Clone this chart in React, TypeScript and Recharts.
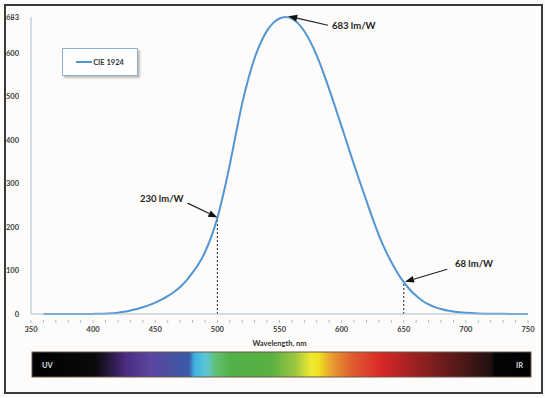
import * as React from "react";
import {
  Line,
  LineChart,
  ReferenceLine,
  XAxis,
  YAxis
} from "recharts";

// CIE 1924 photopic luminous efficacy, lm/W (683 * V(λ))
const wavelengths = [
  360, 370, 380, 390, 400, 410, 420, 425, 430, 435, 440, 445, 450, 455, 460,
  465, 470, 475, 480, 485, 490, 495, 500, 505, 510, 515, 520, 525, 530, 535,
  540, 545, 550, 555, 560, 565, 570, 575, 580, 585, 590, 595, 600, 605, 610,
  615, 620, 625, 630, 635, 640, 645, 650, 655, 660, 665, 670, 675, 680, 685,
  690, 695, 700, 710, 720, 730, 740, 750
];
const efficacy = [
  0.003, 0.008, 0.027, 0.082, 0.27, 0.83, 2.7, 5.0, 7.9, 11.5, 15.7, 20.4,
  26.0, 32.8, 41.0, 50.5, 62.1, 76.9, 95.0, 115.6, 142.1, 176.6, 220.6, 278.2,
  343.5, 415.4, 484.9, 541.8, 588.7, 624.8, 651.6, 669.5, 679.6, 683.0, 679.6,
  668.4, 650.2, 625.2, 594.2, 557.5, 517.0, 474.6, 431.0, 387.1, 343.5, 301.3,
  260.2, 219.2, 181.0, 148.2, 119.5, 94.4, 73.1, 55.7, 41.7, 30.4, 21.9, 15.8,
  11.6, 8.1, 5.6, 3.9, 2.8, 1.43, 0.72, 0.36, 0.17, 0.08
];
const xTicks = [350, 360, 370, 380, 390, 400, 410, 420, 430, 440, 450, 460, 470, 480, 490, 500, 510, 520, 530, 540, 550, 560, 570, 580, 590, 600, 610, 620, 630, 640, 650, 660, 670, 680, 690, 700, 710, 720, 730, 740, 750];
const yTicks = [0, 100, 200, 300, 400, 500, 600, 683];

const data = wavelengths.map((w, i) => ({ wl: w, cie: efficacy[i] }));

const font = "Lato, 'Open Sans', sans-serif";
const axisColor = "#a9bfd6";
const lineColor = "#5195d4";

// spectrum bar colour stops (offset %, colour)
const spectrum: Array<[number, string]> = [
  [0, "#000000"],
  [12.6, "#0a0a0a"],
  [15.8, "#2a1a45"],
  [18.8, "#4a2c80"],
  [23.8, "#5b45a0"],
  [27.7, "#4a50a0"],
  [31.5, "#3a5aa8"],
  [32.5, "#40b0e0"],
  [34.9, "#5cc8d8"],
  [36.9, "#60c070"],
  [39.9, "#50b048"],
  [47.9, "#58b040"],
  [52.9, "#a0c840"],
  [55.9, "#f0e830"],
  [57.5, "#f0e020"],
  [59.9, "#e8a030"],
  [63.9, "#e06030"],
  [69.9, "#d82828"],
  [78.0, "#902020"],
  [86.0, "#501818"],
  [92.0, "#201010"],
  [92.6, "#050505"],
  [100, "#000000"]
];

function XTick(props: any) {
  const { x, y, payload } = props;
  const major = payload.value % 50 === 0;
  return (
    <g>
      <line x1={x} y1={y - 2} x2={x} y2={y + 1} stroke={axisColor} strokeWidth={1} />
      {major && (
        <text x={x} y={y + 10} textAnchor="middle" fontSize={7.5} fontFamily={font} fontWeight={700} fill="#404040">
          {payload.value}
        </text>
      )}
    </g>
  );
}

function Arrow(props: any) {
  const { x1, y1, x2, y2 } = props;
  if (x1 == null) return null;
  const ang = Math.atan2(y2 - y1, x2 - x1);
  const len = 9;
  const w = 3.5;
  const bx = x2 - len * Math.cos(ang);
  const by = y2 - len * Math.sin(ang);
  const px = -Math.sin(ang) * w;
  const py = Math.cos(ang) * w;
  return (
    <g>
      <line x1={x1} y1={y1} x2={bx} y2={by} stroke="#222" strokeWidth={1.2} />
      <polygon points={`${x2},${y2} ${bx + px},${by + py} ${bx - px},${by - py}`} fill="#111" />
    </g>
  );
}

const noteStyle: React.CSSProperties = {
  position: "absolute",
  fontFamily: font,
  fontSize: 9.5,
  fontWeight: 700,
  color: "#222",
  whiteSpace: "nowrap"
};

export default function App() {
  return (
    <div
      style={{
        position: "absolute",
        left: 0,
        top: 0,
        width: 545,
        height: 398,
        background: "#fdfcfa"
      }}
    >
      <div
        style={{
          position: "absolute",
          left: 4,
          top: 4,
          width: 535,
          height: 386,
          border: "2px solid #3a3a3a"
        }}
      />
      <div style={{ position: "absolute", left: 0, top: 0 }}>
        <LineChart
          width={545}
          height={398}
          data={data}
          margin={{ top: 17, right: 17, left: 0, bottom: 44 }}
        >
          <XAxis
            dataKey="wl"
            type="number"
            domain={[350, 750]}
            ticks={xTicks}
            interval={0}
            tick={<XTick />}
            tickLine={false}
            axisLine={{ stroke: axisColor }}
            height={40}
            label={{
              value: "Wavelength, nm",
              position: "insideBottom",
              offset: 8,
              fontSize: 7.5,
              fontWeight: 700,
              fontFamily: font,
              fill: "#333"
            }}
          />
          <YAxis
            type="number"
            domain={[0, 683]}
            ticks={yTicks}
            interval={0}
            width={31}
            tickLine={false}
            axisLine={{ stroke: axisColor }}
            tick={{ fontSize: 7.5, fontFamily: font, fontWeight: 700, fill: "#404040" }}
            tickMargin={6}
          />
          <ReferenceLine
            segment={[{ x: 500, y: 0 }, { x: 500, y: 220.6 }]}
            stroke="#222"
            strokeDasharray="2 2"
            strokeWidth={1}
          />
          <ReferenceLine
            segment={[{ x: 650, y: 0 }, { x: 650, y: 73.1 }]}
            stroke="#222"
            strokeDasharray="2 2"
            strokeWidth={1}
          />
          <Line
            dataKey="cie"
            name="CIE 1924"
            type="monotone"
            stroke={lineColor}
            strokeWidth={2}
            dot={false}
            isAnimationActive={false}
          />
          <ReferenceLine
            segment={[{ x: 589, y: 664 }, { x: 557, y: 685 }]}
            ifOverflow="visible"
            shape={<Arrow />}
          />
          <ReferenceLine
            segment={[{ x: 476, y: 255 }, { x: 500, y: 222 }]}
            ifOverflow="visible"
            shape={<Arrow />}
          />
          <ReferenceLine
            segment={[{ x: 685, y: 103 }, { x: 651, y: 74 }]}
            ifOverflow="visible"
            shape={<Arrow />}
          />
        </LineChart>
      </div>
      <div
        style={{
          position: "absolute",
          left: 62,
          top: 48,
          width: 74,
          height: 26,
          border: "1px solid #8fb0d8",
          background: "#fff",
          boxShadow: "2px 2px 2px rgba(0,0,0,0.25)",
          display: "flex",
          alignItems: "center",
          justifyContent: "center",
          fontFamily: font,
          fontSize: 7.5,
          fontWeight: 700,
          color: "#333"
        }}
      >
        <span style={{ display: "inline-block", width: 16, height: 2, background: lineColor, marginRight: 1 }} />
        CIE 1924
      </div>
      <div style={{ ...noteStyle, left: 140, top: 193 }}>230 lm/W</div>
      <div style={{ ...noteStyle, left: 332, top: 20 }}>683 lm/W</div>
      <div style={{ ...noteStyle, left: 455, top: 258 }}>68 lm/W</div>
      <svg style={{ position: "absolute", left: 0, top: 0 }} width={545} height={398}>
        <defs>
          <linearGradient id="spec" x1="0" y1="0" x2="1" y2="0">
            {spectrum.map(([o, c], i) => (
              <stop key={i} offset={`${o}%`} stopColor={c} />
            ))}
          </linearGradient>
        </defs>
        <rect x={32} y={352} width={499} height={25} fill="url(#spec)" stroke="#6b5a4a" strokeWidth={1} />
        <text x={42} y={368} fontSize={7.5} fontWeight={700} fontFamily={font} fill="#ddd">UV</text>
        <text x={516} y={368} fontSize={7.5} fontWeight={700} fontFamily={font} fill="#ddd">IR</text>
      </svg>
    </div>
  );
}
